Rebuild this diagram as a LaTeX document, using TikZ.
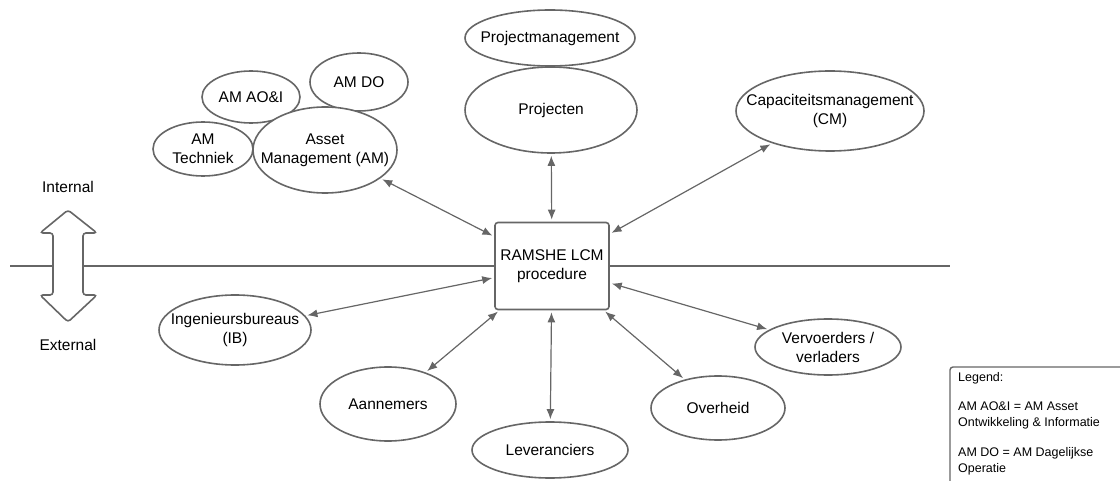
\documentclass[tikz,border=0pt]{standalone}
\usepackage{fontspec}
\setmainfont{Liberation Sans}
\usetikzlibrary{arrows.meta,shapes.geometric}

\definecolor{linegray}{HTML}{666666}
\tikzset{
  party/.style={ellipse, draw=linegray, line width=1.6pt, fill=white, inner sep=-30pt, align=center, font=\fontsize{15.5}{19}\selectfont},
  link/.style={{Latex[length=10pt,width=8pt]}-{Latex[length=10pt,width=8pt]}, draw=linegray, line width=1.2pt, shorten <=2pt, shorten >=2pt}
}

\begin{document}
\begin{tikzpicture}[x=1pt,y=-1pt]
\useasboundingbox (0,0) rectangle (1120,481);
% divide between internal and external
\draw[linegray, line width=1.6pt] (10,266) -- (950,266);
\draw[linegray, line width=1.6pt, fill=white, rounded corners=3pt]
  (68,210) -- (97,233) -- (83,233) -- (83,295) -- (97,295) -- (68,322)
  -- (40,295) -- (53,295) -- (53,233) -- (40,233) -- cycle;
\node[font=\fontsize{15.5}{19}\selectfont] (int) at (68,187) {Internal};
\node[font=\fontsize{15.5}{19}\selectfont] (ext) at (68,345) {External};

% central procedure
\node[draw=linegray, line width=1.6pt, fill=white, rounded corners=3pt, minimum width=114pt, minimum height=87pt, align=center, font=\fontsize{15.5}{19}\selectfont] (lcm) at (552,266) {RAMSHE LCM\\procedure};

% internal parties
\node[party, minimum width=170pt, minimum height=56pt] (pm) at (550,38) {Projectmanagement};
\node[party, minimum width=172pt, minimum height=86pt] (proj) at (551,110) {Projecten};
\node[party, minimum width=188pt, minimum height=80pt] (cm) at (830,111) {Capaciteitsmanagement\\(CM)};
\node[party, minimum width=98pt, minimum height=52pt] (aoi) at (251,97) {AM AO\&I};
\node[party, minimum width=98pt, minimum height=58pt] (do) at (359,82) {AM DO};
\node[party, minimum width=100pt, minimum height=54pt] (tech) at (203,149) {AM\\Techniek};
\node[party, minimum width=144pt, minimum height=86pt] (am) at (325,150) {Asset\\Management (AM)};

% external parties
\node[party, minimum width=152pt, minimum height=70pt] (ib) at (235,330) {Ingenieursbureaus\\(IB)};
\node[party, minimum width=136pt, minimum height=74pt] (aan) at (388,404) {Aannemers};
\node[party, minimum width=156pt, minimum height=56pt] (lev) at (550,450) {Leveranciers};
\node[party, minimum width=134pt, minimum height=64pt] (ovh) at (718,408) {Overheid};
\node[party, minimum width=146pt, minimum height=56pt] (vv) at (828,347) {Vervoerders /\\verladers};

% connections
\draw[link] (am) -- (lcm);
\draw[link] (proj) -- (lcm);
\draw[link] (cm) -- (lcm);
\draw[link] (ib) -- (lcm);
\draw[link] (aan) -- (lcm);
\draw[link] (lev) -- (lcm);
\draw[link] (ovh) -- (lcm);
\draw[link] (vv) -- (lcm);

% legend
\draw[linegray, line width=1.4pt, rounded corners=3pt] (950,367) rectangle (1125,486);
\node[anchor=north west, align=left, inner sep=0pt, font=\fontsize{12.5}{16}\selectfont] (legend) at (958,372)
  {Legend:\\[13pt]AM AO\&I = AM Asset\\Ontwikkeling \& Informatie\\[14pt]AM DO = AM Dagelijkse\\Operatie};
\end{tikzpicture}
\end{document}
